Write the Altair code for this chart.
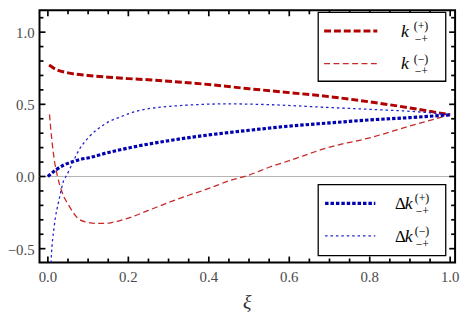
import altair as alt
import pandas as pd

# ---- data ----
xi_kp = [0.003, 0.02, 0.05, 0.1, 0.15, 0.2, 0.25, 0.3, 0.4, 0.5, 0.6, 0.7, 0.8, 0.9, 1.0]
kp = [0.772, 0.742, 0.718, 0.700, 0.688, 0.678, 0.670, 0.660, 0.637, 0.608, 0.581, 0.553, 0.517, 0.475, 0.427]

xi_km = [0.004, 0.01, 0.016, 0.024, 0.036, 0.053, 0.077, 0.1, 0.118, 0.14, 0.16, 0.18, 0.2, 0.25,
         0.3, 0.35, 0.4, 0.45, 0.5, 0.55, 0.6, 0.7, 0.8, 0.9, 1.0]
km = [0.43, 0.25, 0.114, 0.0, -0.114, -0.205, -0.295, -0.318, -0.325, -0.325, -0.318, -0.305, -0.288, -0.235,
      -0.18, -0.13, -0.083, -0.03, 0.01, 0.064, 0.11, 0.203, 0.268, 0.35, 0.427]

xi_dkp = [0.0, 0.02, 0.04, 0.061, 0.08, 0.102, 0.142, 0.183, 0.224, 0.3, 0.4, 0.5, 0.6, 0.7, 0.8, 0.9, 1.0]
dkp = [0.0, 0.046, 0.08, 0.102, 0.118, 0.13, 0.16, 0.187, 0.211, 0.248, 0.288, 0.32, 0.349, 0.371, 0.392, 0.408, 0.427]

xi_dkm = [0.006, 0.008, 0.016, 0.028, 0.04, 0.045, 0.061, 0.077, 0.102, 0.142, 0.183, 0.224, 0.3, 0.35,
          0.444, 0.567, 0.689, 0.8, 0.934, 1.0]
dkm = [-0.75, -0.59, -0.341, -0.159, -0.023, 0.0, 0.091, 0.182, 0.273, 0.364, 0.416, 0.455, 0.485, 0.495,
       0.503, 0.496, 0.479, 0.465, 0.445, 0.427]

x_major = [0.0, 0.2, 0.4, 0.6, 0.8, 1.0]
x_labels = ["0.0", "0.2", "0.4", "0.6", "0.8", "1.0"]
x_minor = [0.05, 0.1, 0.15, 0.25, 0.3, 0.35, 0.45, 0.5, 0.55, 0.65, 0.7, 0.75, 0.85, 0.9, 0.95]
y_major = [-0.5, 0.0, 0.5, 1.0]
y_labels = ["−0.5", "0.0", "0.5", "1.0"]
y_minor = [-0.4, -0.3, -0.2, -0.1, 0.1, 0.2, 0.3, 0.4, 0.6, 0.7, 0.8, 0.9, 1.1]
x_title = "ξ"

W, H = 422, 256
XDOM = [-0.0208, 1.0122]
YDOM = [-0.5955, 1.151]

SERIF = "Liberation Serif"
LABEL_GRAY = "#4a4a4a"
RED1, RED2 = "#b00000", "#c82828"
BLUE1, BLUE2 = "#0000b0", "#2020d0"

xs = alt.Scale(domain=XDOM, nice=False, zero=False)
ys = alt.Scale(domain=YDOM, nice=False, zero=False)


def curve(xv, yv, color, width, dash):
    df = pd.DataFrame({"xi": xv, "v": yv})
    return alt.Chart(df).mark_line(color=color, strokeWidth=width, strokeDash=dash, clip=True,
                                   interpolate="monotone").encode(
        x=alt.X("xi:Q", scale=xs, axis=None),
        y=alt.Y("v:Q", scale=ys, axis=None),
    )


zero_df = pd.DataFrame({"v": [0.0]})
zero_line = alt.Chart(zero_df).mark_rule(color="#b4b4b4", strokeWidth=1.2).encode(
    y=alt.Y("v:Q", scale=ys, axis=None))

c_kp = curve(xi_kp, kp, RED1, 3, [7, 3])
c_km = curve(xi_km, km, RED2, 1.3, [6, 3.5])
c_dkp = curve(xi_dkp, dkp, BLUE1, 3.2, [3.5, 2])
c_dkm = curve(xi_dkm, dkm, BLUE2, 1.3, [2.5, 3])


# ---- inward frame ticks (Mathematica style), placed through the scales ----
def x_ticks(values, length):
    df = pd.DataFrame({"t": values})
    base = alt.Chart(df).mark_rule(color="black", strokeWidth=1.7)
    bottom = base.encode(x=alt.X("t:Q", scale=xs, axis=None), y=alt.value(H), y2=alt.value(H - length))
    top = base.encode(x=alt.X("t:Q", scale=xs, axis=None), y=alt.value(0), y2=alt.value(length))
    return [bottom, top]


def y_ticks(values, length):
    df = pd.DataFrame({"t": values})
    base = alt.Chart(df).mark_rule(color="black", strokeWidth=1.7)
    left = base.encode(y=alt.Y("t:Q", scale=ys, axis=None), x=alt.value(0), x2=alt.value(length))
    right = base.encode(y=alt.Y("t:Q", scale=ys, axis=None), x=alt.value(W), x2=alt.value(W - length))
    return [left, right]


tick_layers = x_ticks(x_major, 6) + x_ticks(x_minor, 4) + y_ticks(y_major, 6) + y_ticks(y_minor, 4)

# tick labels and axis title as serif text
xl_df = pd.DataFrame({"t": x_major, "lab": x_labels})
yl_df = pd.DataFrame({"t": y_major, "lab": y_labels})
x_tick_labels = alt.Chart(xl_df).mark_text(font=SERIF, fontSize=15, color=LABEL_GRAY, baseline="alphabetic",
                                           align="center").encode(
    x=alt.X("t:Q", scale=xs, axis=None), y=alt.value(H + 20), text="lab:N")
y_tick_labels = alt.Chart(yl_df).mark_text(font=SERIF, fontSize=15, color=LABEL_GRAY, baseline="middle",
                                           align="right", dy=1).encode(
    y=alt.Y("t:Q", scale=ys, axis=None), x=alt.value(-5), text="lab:N")

one = pd.DataFrame({"a": [0]})
title_mark = alt.Chart(one).mark_text(text=x_title, font=SERIF, fontSize=20, fontStyle="italic",
                                      color="#303030", align="center", baseline="alphabetic").encode(
    x=alt.value(W / 2), y=alt.value(H + 46))


# ---- legend (pixel layout inside the plot area) ----
def box(x1, x2, y1, y2):
    return alt.Chart(one).mark_rect(fill="white", stroke="black", strokeWidth=1.3).encode(
        x=alt.value(x1), x2=alt.value(x2), y=alt.value(y1), y2=alt.value(y2))


def sample(x1, x2, y, color, width, dash):
    return alt.Chart(one).mark_rule(color=color, strokeWidth=width, strokeDash=dash).encode(
        x=alt.value(x1), x2=alt.value(x2), y=alt.value(y))


def txt(s, x, y, size, style="normal", baseline="alphabetic"):
    return alt.Chart(one).mark_text(text=s, font=SERIF, fontSize=size, fontStyle=style, align="left",
                                    baseline=baseline, color="black").encode(
        x=alt.value(x), y=alt.value(y))


sup_labels = ["(+)", "(−)"]
sub_label = "−+"

legend_layers = [
    box(283, 412.5, 2, 72),
    sample(289, 343, 21, RED1, 3, [7, 3]),
    sample(289, 343, 54, RED2, 1.3, [6, 3.5]),
    txt("k", 367, 27, 18, "italic"), txt(sup_labels[0], 380, 16, 12, baseline="middle"),
    txt(sub_label, 381, 29, 12, baseline="middle"),
    txt("k", 367, 60, 18, "italic"), txt(sup_labels[1], 380, 49, 12, baseline="middle"),
    txt(sub_label, 381, 62, 12, baseline="middle"),
    box(283, 412.5, 177, 249),
    sample(290, 341, 196, BLUE1, 3.2, [3.5, 2]),
    sample(290, 341, 229, BLUE2, 1.3, [2.5, 3]),
    txt("Δ", 361, 202, 17), txt("k", 371, 202, 18, "italic"),
    txt(sup_labels[0], 381, 191, 12, baseline="middle"), txt(sub_label, 382, 204, 12, baseline="middle"),
    txt("Δ", 361, 235, 17), txt("k", 371, 235, 18, "italic"),
    txt(sup_labels[1], 381, 224, 12, baseline="middle"), txt(sub_label, 382, 237, 12, baseline="middle"),
]

chart = alt.layer(
    zero_line, c_kp, c_km, c_dkp, c_dkm, *tick_layers, x_tick_labels, y_tick_labels, title_mark,
    *legend_layers
).properties(
    width=W, height=H,
    autosize=alt.AutoSizeParams(type="none"),
    padding={"left": 32, "top": 0, "right": 6, "bottom": 53},
).configure_view(stroke="black", strokeWidth=2)

chart.save("out.html", embed_options={"renderer": "svg", "actions": False})
